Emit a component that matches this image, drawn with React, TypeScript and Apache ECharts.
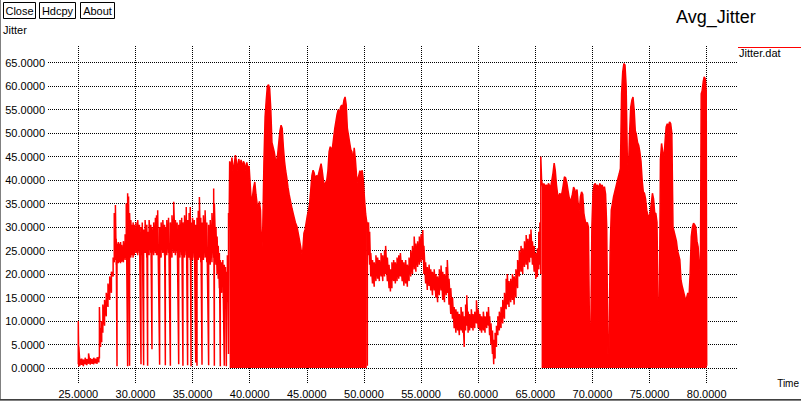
import React, { useEffect, useRef } from 'react';
import * as echarts from 'echarts';

const xTicks = [25, 30, 35, 40, 45, 50, 55, 60, 65, 70, 75, 80];
const yTicks = [0, 5, 10, 15, 20, 25, 30, 35, 40, 45, 50, 55, 60, 65];
const buttonLabels = ['Close', 'Hdcpy', 'About'];
const titleText = 'Avg_Jitter';
const yName = 'Jitter';
const xName = 'Time';
const seriesName = 'Jitter.dat';

// noisy band segments: [time, low, high]
const bandA: number[][] = [
  [25.00, 0.8, 10.0], [25.05, 0.3, 4.5], [25.15, 0.5, 1.9], [25.30, 0.7, 2.0], [25.45, 0.4, 1.8],
  [25.60, 0.8, 2.2], [25.75, 0.6, 1.9], [25.90, 0.9, 3.1], [26.05, 0.7, 2.1], [26.20, 0.9, 1.9],
  [26.35, 0.8, 2.2], [26.50, 1.0, 2.0], [26.65, 0.9, 2.3], [26.80, 1.2, 2.4], [26.85, 2.0, 13.0],
  [26.95, 4.5, 8.5], [27.05, 5.5, 10.0], [27.15, 7.5, 13.5], [27.30, 9.0, 14.5], [27.45, 11.0, 16.0],
  [27.60, 13.0, 18.0], [27.75, 14.5, 19.5], [27.90, 16.0, 20.5], [28.05, 19.5, 23.5], [28.15, 22.5, 33.0],
  [28.25, 23.0, 34.7], [28.32, 22.0, 27.5], [28.39, 0.4, 26.5], [28.50, 22.3, 26.8], [28.60, 22.5, 26.5],
  [28.70, 22.3, 26.8], [28.80, 22.6, 26.2], [28.95, 22.5, 27.0], [29.10, 23.0, 28.5], [29.20, 23.5, 35.0],
  [29.32, 0.4, 37.2], [29.40, 23.0, 36.5], [29.49, 0.5, 33.0], [29.60, 23.5, 31.5], [29.70, 24.0, 30.5],
  [29.80, 23.5, 31.0], [29.90, 24.0, 30.5], [30.05, 24.5, 31.0], [30.20, 24.0, 31.5], [30.35, 24.5, 30.5],
  [30.49, 0.8, 30.0], [30.60, 24.0, 31.0], [30.72, 0.6, 29.5], [30.85, 24.5, 31.5], [31.00, 23.5, 30.5],
  [31.07, 0.5, 29.0], [31.20, 24.0, 31.5], [31.35, 24.5, 30.5], [31.45, 4.0, 30.0], [31.60, 24.0, 31.0],
  [31.75, 24.5, 32.0], [31.85, 24.0, 32.5], [31.95, 24.0, 33.6], [32.12, 0.7, 30.0], [32.25, 23.5, 31.0],
  [32.40, 24.5, 31.5], [32.55, 24.0, 30.5], [32.62, 0.6, 30.0], [32.75, 24.0, 31.5], [32.90, 24.5, 32.0],
  [33.06, 0.5, 31.0], [33.20, 23.5, 32.5], [33.35, 24.5, 35.4], [33.50, 24.0, 31.5], [33.65, 24.5, 31.0],
  [33.79, 0.8, 30.5], [33.90, 23.5, 31.5], [34.05, 24.0, 32.0], [34.16, 0.5, 31.0], [34.30, 23.5, 32.5],
  [34.45, 24.0, 34.3], [34.57, 0.6, 31.5], [34.70, 23.5, 33.0], [34.80, 23.0, 34.3], [34.87, 0.4, 31.0],
  [35.00, 23.0, 32.0], [35.15, 23.5, 31.5], [35.28, 1.2, 30.5], [35.39, 0.5, 32.0], [35.50, 23.0, 33.5],
  [35.60, 23.5, 36.4], [35.72, 22.5, 32.0], [35.83, 0.7, 31.0], [35.95, 23.0, 32.5], [36.10, 23.5, 33.6],
  [36.25, 22.5, 31.0], [36.41, 0.6, 30.5], [36.55, 22.0, 31.5], [36.70, 22.5, 33.0], [36.85, 23.5, 38.2],
  [36.91, 0.5, 35.0], [37.05, 22.0, 30.0], [37.15, 20.0, 28.0], [37.25, 19.0, 26.0], [37.35, 17.0, 24.5],
  [37.43, 0.4, 23.0], [37.55, 16.0, 22.5], [37.65, 18.0, 23.0], [37.78, 0.5, 22.0], [37.88, 15.0, 21.5],
  [37.96, 0.4, 20.5], [38.05, 14.0, 24.0], [38.15, 3.0, 33.0],
];

// dense segment: [time, envelope top]
const denseA: number[][] = [
  [38.20, 30.0], [38.25, 44.0], [38.35, 42.5], [38.45, 44.8], [38.55, 41.5], [38.65, 43.5],
  [38.75, 45.3], [38.85, 44.0], [38.95, 42.0], [39.05, 44.5], [39.15, 43.0], [39.25, 44.3],
  [39.35, 42.5], [39.45, 44.0], [39.55, 43.5], [39.65, 42.0], [39.75, 43.8], [39.85, 42.5],
  [39.95, 43.0], [40.05, 39.0], [40.15, 35.0], [40.25, 36.5], [40.35, 38.5], [40.45, 39.6],
  [40.55, 37.0], [40.65, 35.0], [40.75, 34.0], [40.85, 35.5], [40.95, 33.5], [41.05, 23.9],
  [41.15, 30.0], [41.25, 44.0], [41.35, 53.5], [41.45, 57.0], [41.55, 60.0], [41.65, 60.3],
  [41.75, 59.5], [41.85, 55.0], [41.95, 48.0], [42.05, 47.0], [42.15, 46.0], [42.25, 44.5],
  [42.35, 44.0], [42.45, 45.5], [42.55, 48.0], [42.65, 50.5], [42.75, 51.7], [42.85, 51.0],
  [42.95, 47.0], [43.05, 44.0], [43.15, 42.0], [43.25, 40.5], [43.35, 38.5], [43.45, 37.0],
  [43.55, 35.8], [43.70, 34.0], [43.85, 32.5], [44.00, 31.0], [44.15, 30.0], [44.30, 28.0],
  [44.45, 26.0], [44.55, 24.4], [44.65, 25.0], [44.75, 28.7], [44.85, 29.5], [44.95, 31.0],
  [45.05, 32.5], [45.15, 33.6], [45.25, 35.0], [45.35, 38.0], [45.45, 41.0], [45.55, 42.1],
  [45.65, 41.5], [45.75, 40.0], [45.85, 41.0], [45.95, 40.5], [46.05, 41.5], [46.15, 42.5],
  [46.25, 43.5], [46.35, 42.0], [46.45, 40.0], [46.55, 38.6], [46.65, 39.5], [46.75, 40.0],
  [46.85, 42.0], [46.95, 46.0], [47.05, 47.1], [47.15, 46.5], [47.25, 47.0], [47.35, 49.0],
  [47.45, 51.0], [47.55, 52.5], [47.65, 54.0], [47.75, 55.0], [47.85, 54.0], [47.95, 55.5],
  [48.05, 56.0], [48.15, 55.5], [48.25, 57.0], [48.35, 57.7], [48.45, 56.0], [48.55, 51.0],
  [48.65, 49.5], [48.75, 48.0], [48.85, 46.5], [48.95, 46.0], [49.05, 44.0], [49.15, 46.9],
  [49.25, 44.5], [49.35, 41.0], [49.45, 39.5], [49.55, 41.0], [49.65, 42.0], [49.75, 41.5],
  [49.85, 42.1], [49.95, 40.0], [50.05, 36.0], [50.15, 32.8], [50.25, 31.0],
];

const bandB: number[][] = [
  [50.30, 0.5, 31.0], [50.40, 24.0, 31.0], [50.50, 22.0, 29.0], [50.60, 19.5, 24.5], [50.75, 18.0, 23.0],
  [50.90, 17.3, 22.5], [51.05, 18.5, 24.0], [51.20, 19.0, 23.5], [51.35, 18.5, 23.0], [51.50, 19.5, 24.5],
  [51.65, 18.5, 24.0], [51.80, 19.5, 25.0], [51.90, 20.0, 26.0], [52.05, 18.5, 23.5], [52.20, 17.0, 22.0],
  [52.32, 16.3, 21.0], [52.45, 17.0, 22.5], [52.60, 18.5, 23.0], [52.75, 18.0, 22.5], [52.90, 18.5, 23.5],
  [53.05, 19.0, 24.0], [53.19, 19.5, 24.5], [53.35, 18.5, 23.0], [53.50, 17.5, 22.5], [53.65, 18.0, 23.0],
  [53.80, 17.3, 22.0], [53.95, 18.5, 23.5], [54.10, 19.5, 25.0], [54.25, 20.0, 26.0], [54.40, 21.0, 28.0],
  [54.55, 20.5, 26.5], [54.70, 21.5, 27.0], [54.85, 22.0, 28.0], [55.00, 22.5, 28.5], [55.15, 23.0, 29.4],
  [55.25, 20.0, 26.0], [55.40, 18.0, 22.5], [55.55, 16.6, 21.5], [55.70, 17.5, 22.0], [55.85, 16.5, 21.0],
  [56.00, 15.5, 20.5], [56.15, 16.5, 21.0], [56.30, 15.0, 20.0], [56.45, 14.0, 19.5], [56.60, 15.5, 21.0],
  [56.75, 16.5, 21.8], [56.90, 14.5, 20.5], [57.05, 14.0, 20.0], [57.20, 15.5, 21.5], [57.30, 16.0, 23.0],
  [57.45, 13.5, 19.0], [57.60, 11.5, 17.0], [57.75, 10.5, 15.0], [57.90, 8.5, 13.0], [58.05, 7.5, 12.5],
  [58.20, 8.0, 12.0], [58.35, 7.0, 11.5], [58.50, 8.0, 13.0], [58.65, 7.5, 12.0], [58.78, 4.5, 11.0],
  [58.90, 8.0, 13.5], [59.00, 9.0, 15.5], [59.12, 7.5, 12.0], [59.25, 8.0, 11.5], [59.40, 8.5, 12.5],
  [59.55, 8.0, 11.5], [59.70, 8.5, 12.0], [59.85, 9.5, 14.4], [60.00, 8.5, 12.5], [60.15, 8.0, 11.5],
  [60.30, 7.5, 11.0], [60.45, 8.0, 12.0], [60.60, 7.5, 11.0], [60.75, 8.5, 12.0], [60.90, 9.0, 13.0],
  [61.00, 7.0, 11.0], [61.12, 5.0, 9.5], [61.25, 3.0, 8.0], [61.36, 0.8, 6.0], [61.48, 2.0, 7.5],
  [61.60, 4.5, 9.0], [61.72, 7.0, 11.0], [61.85, 8.0, 12.0], [62.00, 8.5, 13.0], [62.15, 9.5, 14.5],
  [62.30, 10.5, 16.0], [62.45, 12.5, 19.0], [62.55, 13.5, 20.0], [62.70, 13.0, 18.5], [62.85, 14.0, 19.0],
  [63.00, 14.5, 20.0], [63.15, 13.5, 19.5], [63.30, 15.0, 21.0], [63.45, 17.0, 23.0], [63.60, 19.5, 25.0],
  [63.75, 20.5, 26.0], [63.90, 20.0, 25.5], [64.05, 21.5, 27.0], [64.20, 22.0, 28.3], [64.35, 21.0, 27.5],
  [64.50, 22.5, 28.5], [64.62, 23.5, 29.5], [64.75, 22.0, 27.0], [64.90, 20.5, 26.0], [65.05, 19.0, 24.5],
  [65.18, 19.4, 25.5], [65.30, 21.0, 29.0], [65.40, 22.0, 31.0], [65.48, 20.0, 45.0],
];

const denseB: number[][] = [
  [65.55, 40.0], [65.65, 38.5], [65.75, 39.3], [65.85, 38.6], [65.95, 39.0], [66.05, 38.5],
  [66.15, 39.3], [66.25, 38.8], [66.35, 38.6], [66.45, 40.0], [66.55, 41.5], [66.65, 43.6],
  [66.75, 42.0], [66.85, 39.0], [66.95, 37.0], [67.05, 36.5], [67.15, 37.2], [67.25, 36.5],
  [67.35, 37.5], [67.45, 39.0], [67.55, 40.7], [67.65, 40.5], [67.75, 39.5], [67.85, 38.0],
  [67.95, 36.5], [68.05, 35.5], [68.15, 36.0], [68.25, 37.0], [68.35, 38.5], [68.45, 38.0],
  [68.55, 37.0], [68.65, 38.0], [68.75, 35.0], [68.85, 33.5], [68.95, 36.5], [69.05, 37.5],
  [69.15, 37.0], [69.25, 33.0], [69.35, 31.5], [69.45, 30.5], [69.55, 31.0], [69.65, 30.0],
  [69.75, 6.0], [69.85, 5.0], [69.95, 30.0], [70.05, 37.5], [70.15, 39.0], [70.25, 39.3],
  [70.35, 38.5], [70.45, 39.0], [70.55, 38.0], [70.65, 39.3], [70.75, 38.5], [70.85, 39.0],
  [70.95, 38.0], [71.05, 38.6], [71.15, 37.0], [71.25, 30.0], [71.35, 3.0], [71.45, 3.5],
  [71.55, 25.0], [71.65, 33.6], [71.75, 35.0], [71.85, 36.5], [71.95, 37.5], [72.05, 38.5],
  [72.15, 39.5], [72.25, 40.5], [72.35, 41.4], [72.45, 42.5], [72.55, 58.4], [72.65, 63.0],
  [72.75, 64.8], [72.85, 64.5], [72.95, 60.0], [73.05, 45.0], [73.15, 42.0], [73.25, 50.0],
  [73.35, 55.5], [73.45, 57.0], [73.55, 57.7], [73.65, 55.0], [73.75, 50.5], [73.85, 49.6],
  [73.95, 48.0], [74.05, 47.4], [74.15, 46.0], [74.25, 44.0], [74.35, 40.0], [74.45, 37.5],
  [74.55, 37.2], [74.65, 36.0], [74.75, 33.6], [74.85, 32.5], [74.95, 32.2], [75.05, 33.0],
  [75.15, 35.0], [75.25, 37.2], [75.35, 36.0], [75.45, 33.0], [75.55, 32.9], [75.65, 31.0],
  [75.75, 12.0], [75.85, 8.8], [75.95, 44.3], [76.05, 47.8], [76.15, 46.0], [76.25, 44.3],
  [76.35, 48.0], [76.45, 51.3], [76.55, 52.0], [76.65, 51.5], [76.75, 52.4], [76.85, 52.0],
  [76.95, 50.0], [77.05, 30.0], [77.15, 29.0], [77.25, 28.0], [77.35, 27.0], [77.45, 25.0],
  [77.55, 24.0], [77.65, 23.0], [77.75, 18.7], [77.85, 17.5], [77.95, 16.5], [78.05, 15.5],
  [78.15, 14.5], [78.25, 15.0], [78.35, 16.0], [78.45, 15.0], [78.55, 20.0], [78.65, 28.0],
  [78.75, 30.0], [78.85, 30.8], [78.95, 30.5], [79.05, 30.0], [79.15, 27.0], [79.25, 25.8],
  [79.35, 22.0], [79.45, 20.0], [79.52, 58.4], [79.60, 59.0], [79.70, 61.0], [79.78, 62.0],
  [79.88, 61.5], [79.96, 59.0], [80.00, 0.5],
];

const FONT = "'Liberation Sans', Arial, sans-serif";
const RED = '#ff0000';

function bandPoints(band: number[][]): number[][] {
  const out: number[][] = [];
  band.forEach(([x, lo, hi]) => {
    out.push([x, lo], [x, hi]);
  });
  return out;
}

export default function App() {
  const ref = useRef<HTMLDivElement>(null);
  useEffect(() => {
    if (!ref.current) return;
    const chart = echarts.init(ref.current, null, { renderer: 'svg' });
    const linePts = [
      ...bandPoints(bandA),
      ...denseA,
      ...bandPoints(bandB),
      ...denseB,
    ];
    const btnX = [[3.5, 32], [39.5, 36], [80.5, 34]];
    const graphics: any[] = [];
    buttonLabels.forEach((label, i) => {
      graphics.push({
        type: 'rect',
        shape: { x: btnX[i][0], y: 2.5, width: btnX[i][1], height: 16 },
        style: { fill: '#fff', stroke: '#000', lineWidth: 1 },
      });
      graphics.push({
        type: 'text',
        x: btnX[i][0] + btnX[i][1] / 2,
        y: 10.5,
        style: { text: label, fill: '#000', font: `11px ${FONT}`, textAlign: 'center', textVerticalAlign: 'middle' },
      });
    });
    graphics.push(
      { type: 'text', x: 676, y: 16.5, style: { text: titleText, fill: '#000', font: `18px ${FONT}`, textAlign: 'left', textVerticalAlign: 'middle' } },
      { type: 'text', x: 3, y: 29.5, style: { text: yName, fill: '#000', font: `11px ${FONT}`, textAlign: 'left', textVerticalAlign: 'middle' } },
      { type: 'text', x: 799, y: 383.5, style: { text: xName, fill: '#000', font: `10px ${FONT}`, textAlign: 'right', textVerticalAlign: 'middle' } },
      { type: 'line', shape: { x1: 738, y1: 47.5, x2: 801, y2: 47.5 }, style: { stroke: RED, lineWidth: 1 } },
      { type: 'text', x: 739, y: 52.5, style: { text: seriesName, fill: '#000', font: `11px ${FONT}`, textAlign: 'left', textVerticalAlign: 'middle' } },
      { type: 'line', shape: { x1: 0.5, y1: 0, x2: 0.5, y2: 401 }, style: { stroke: '#808080', lineWidth: 1 } },
      { type: 'line', shape: { x1: 0, y1: 399.5, x2: 801, y2: 399.5 }, style: { stroke: '#404040', lineWidth: 1 } },
      { type: 'line', shape: { x1: 0, y1: 400.5, x2: 801, y2: 400.5 }, style: { stroke: '#808080', lineWidth: 1 } },
    );

    const option: any = {
      animation: false,
      backgroundColor: '#ffffff',
      grid: { left: 48, right: 63, top: 46, bottom: 18, containLabel: false },
      xAxis: {
        type: 'value',
        min: 22.35,
        max: 82.74,
        axisLine: { show: false },
        axisTick: { show: false, customValues: xTicks },
        splitLine: { show: true, lineStyle: { type: 'dotted', color: '#000', width: 1 } },
        axisLabel: {
          customValues: xTicks,
          formatter: (v: number) => v.toFixed(4),
          color: '#000',
          fontFamily: FONT,
          fontSize: 11,
          margin: 5,
        },
      },
      yAxis: {
        type: 'value',
        min: -3.19,
        max: 68.55,
        axisLine: { show: false },
        axisTick: { show: false, customValues: yTicks },
        splitLine: { show: true, lineStyle: { type: 'dotted', color: '#000', width: 1 } },
        axisLabel: {
          customValues: yTicks,
          formatter: (v: number) => v.toFixed(4),
          color: '#000',
          fontFamily: FONT,
          fontSize: 11,
          margin: 3,
        },
      },
      series: [
        {
          type: 'line', name: 'fillA', data: denseA, symbol: 'none', silent: true,
          lineStyle: { width: 0, color: RED }, itemStyle: { color: RED },
          areaStyle: { color: RED, opacity: 1 }, z: 2,
        },
        {
          type: 'line', name: 'fillB', data: denseB, symbol: 'none', silent: true,
          lineStyle: { width: 0, color: RED }, itemStyle: { color: RED },
          areaStyle: { color: RED, opacity: 1 }, z: 2,
        },
        {
          type: 'line', name: seriesName, data: linePts, symbol: 'none', showSymbol: false, silent: true,
          lineStyle: { width: 1.5, color: RED }, itemStyle: { color: RED }, z: 3,
        },
      ],
      graphic: graphics,
    };
    chart.setOption(option);
    return () => chart.dispose();
  }, []);
  return (
    <div
      ref={ref}
      style={{ position: 'fixed', left: 0, top: 0, width: 801, height: 401, background: '#fff' }}
    />
  );
}
